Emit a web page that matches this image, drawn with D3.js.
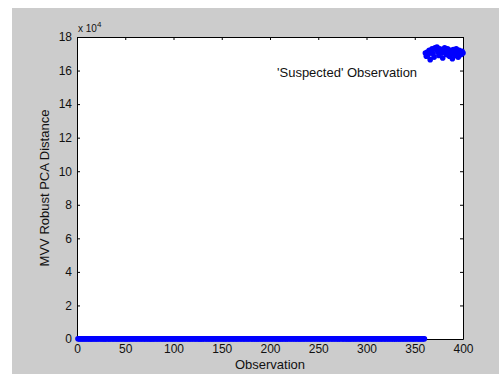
<!DOCTYPE html>
<html>
<head>
<meta charset="utf-8">
<script src="https://cdn.jsdelivr.net/npm/d3@7"></script>
<style>
  body { margin: 0; background: #fff; }
  svg { display: block; font-family: "Liberation Sans", Arial, sans-serif; }
</style>
</head>
<body>
<svg width="499" height="374"></svg>
<script>
//data: observations 1..360 (tiny distances) and 361..400 (suspected)
const normalDist = [
  120, 95, 140, 80, 110, 160, 70, 130, 100, 90, 150, 85, 115, 125, 60, 105, 135, 75, 145, 95,
  110, 80, 130, 100, 90, 140, 120, 70, 115, 85, 155, 105, 95, 125, 65, 135, 100, 80, 110, 150,
  90, 120, 75, 140, 105, 85, 130, 115, 95, 160, 70, 100, 125, 80, 145, 110, 90, 135, 65, 120,
  100, 85, 150, 115, 95, 130, 75, 110, 140, 90, 120, 105, 80, 135, 95, 155, 70, 125, 100, 85,
  115, 140, 90, 110, 75, 130, 120, 95, 105, 145, 80, 100, 125, 65, 135, 110, 90, 150, 85, 120,
  95, 130, 105, 80, 140, 115, 70, 125, 100, 90, 155, 85, 110, 135, 95, 120, 75, 145, 105, 90,
  130, 100, 80, 115, 140, 95, 125, 70, 110, 150, 85, 105, 135, 90, 120, 65, 100, 145, 80, 115,
  90, 125, 110, 75, 140, 100, 95, 130, 85, 155, 105, 120, 70, 135, 90, 115, 100, 80, 145, 110,
  125, 85, 105, 140, 95, 120, 75, 130, 100, 90, 150, 115, 80, 125, 105, 65, 135, 95, 110, 140,
  100, 80, 120, 90, 145, 115, 70, 130, 105, 85, 125, 95, 155, 110, 75, 140, 100, 120, 90, 135,
  115, 85, 105, 130, 95, 150, 80, 120, 100, 70, 140, 110, 90, 125, 105, 85, 145, 95, 115, 130,
  75, 100, 135, 90, 120, 110, 80, 155, 105, 95, 125, 65, 140, 115, 85, 100, 130, 90, 120, 110,
  145, 95, 75, 135, 105, 85, 125, 115, 100, 150, 80, 120, 90, 140, 110, 70, 130, 95, 105, 125,
  85, 115, 145, 100, 90, 135, 75, 120, 110, 95, 155, 80, 105, 130, 100, 85, 140, 115, 90, 125,
  105, 70, 135, 95, 120, 110, 85, 150, 100, 90, 130, 115, 75, 140, 105, 95, 125, 80, 110, 145,
  90, 120, 100, 135, 85, 115, 65, 130, 105, 95, 150, 110, 80, 125, 100, 90, 140, 115, 75, 120,
  110, 95, 135, 85, 145, 105, 90, 125, 100, 70, 130, 115, 80, 155, 95, 120, 110, 85, 140, 100,
  125, 90, 105, 130, 75, 115, 145, 95, 100, 85, 135, 110, 120, 90, 150, 80, 105, 125, 95, 115
];
const suspectedDist = [
  170500, 168500, 171000, 169500, 172000, 166500, 171500, 173000, 170000, 168000,
  173500, 172500, 174000, 171000, 169000, 173000, 172000, 170500, 167500, 172500,
  173500, 171500, 169500, 173000, 171000, 168500, 172000, 170000, 167000, 172500,
  171500, 169000, 173000, 170500, 168000, 172000, 171000, 169500, 171500, 170500
];
const xTicks = [0, 50, 100, 150, 200, 250, 300, 350, 400];
const yTicks = [0, 2, 4, 6, 8, 10, 12, 14, 16, 18];

const points = normalDist.concat(suspectedDist).map((v, i) => ({ obs: i + 1, dist: v }));

//set up
const svg = d3.select('svg');
const plotL = 77, plotR = 463, plotT = 37, plotB = 339;

svg.append('rect')
  .attr('x', 12).attr('y', 8)
  .attr('width', 487).attr('height', 366)
  .attr('fill', '#cccccc');

svg.append('rect')
  .attr('x', plotL).attr('y', plotT)
  .attr('width', plotR - plotL).attr('height', plotB - plotT)
  .attr('fill', '#ffffff');

const x = d3.scaleLinear().domain([0, 400]).range([plotL, plotR]);
const y = d3.scaleLinear().domain([0, 180000]).range([plotB, plotT]);

//axes
const axisStyle = g => {
  g.selectAll('.domain').attr('stroke', '#000');
  g.selectAll('.tick line').attr('stroke', '#000');
  g.selectAll('.tick text').attr('fill', '#111').style('font-size', '12px');
};

svg.append('g')
  .attr('transform', `translate(0,${plotB})`)
  .call(d3.axisBottom(x).tickValues(xTicks).tickSizeInner(-3).tickSizeOuter(0).tickPadding(5))
  .call(axisStyle);

svg.append('g')
  .attr('transform', `translate(${plotL},0)`)
  .call(d3.axisLeft(y).tickValues(yTicks.map(d => d * 1e4)).tickFormat(d => d / 1e4)
    .tickSizeInner(-3).tickSizeOuter(0).tickPadding(5))
  .call(axisStyle);

svg.append('g')
  .attr('transform', `translate(0,${plotT})`)
  .call(d3.axisTop(x).tickValues(xTicks).tickSizeInner(-3).tickSizeOuter(0).tickFormat(''))
  .call(axisStyle);

svg.append('g')
  .attr('transform', `translate(${plotR},0)`)
  .call(d3.axisRight(y).tickValues(yTicks.map(d => d * 1e4)).tickSizeInner(-3).tickSizeOuter(0).tickFormat(''))
  .call(axisStyle);

//exponent label
const expo = svg.append('text')
  .attr('x', 78).attr('y', 32)
  .attr('fill', '#111')
  .style('font-size', '10px');
expo.append('tspan').text('x 10');
expo.append('tspan').attr('dy', -5).style('font-size', '8px').text('4');

//markers
svg.append('g')
  .selectAll('circle')
  .data(points)
  .join('circle')
  .attr('cx', d => x(d.obs))
  .attr('cy', d => y(d.dist))
  .attr('r', 2.8)
  .attr('fill', '#0000ff');

//annotation
svg.append('text')
  .attr('x', 277).attr('y', 77)
  .attr('fill', '#111')
  .style('font-size', '13px')
  .text("'Suspected' Observation");

//axis labels
svg.append('text')
  .attr('x', (plotL + plotR) / 2).attr('y', 369)
  .attr('text-anchor', 'middle')
  .attr('fill', '#111')
  .style('font-size', '13px')
  .text('Observation');

svg.append('text')
  .attr('transform', `translate(49,${(plotT + plotB) / 2}) rotate(-90)`)
  .attr('text-anchor', 'middle')
  .attr('fill', '#111')
  .style('font-size', '13px')
  .text('MVV Robust PCA Distance');
</script>
</body>
</html>
